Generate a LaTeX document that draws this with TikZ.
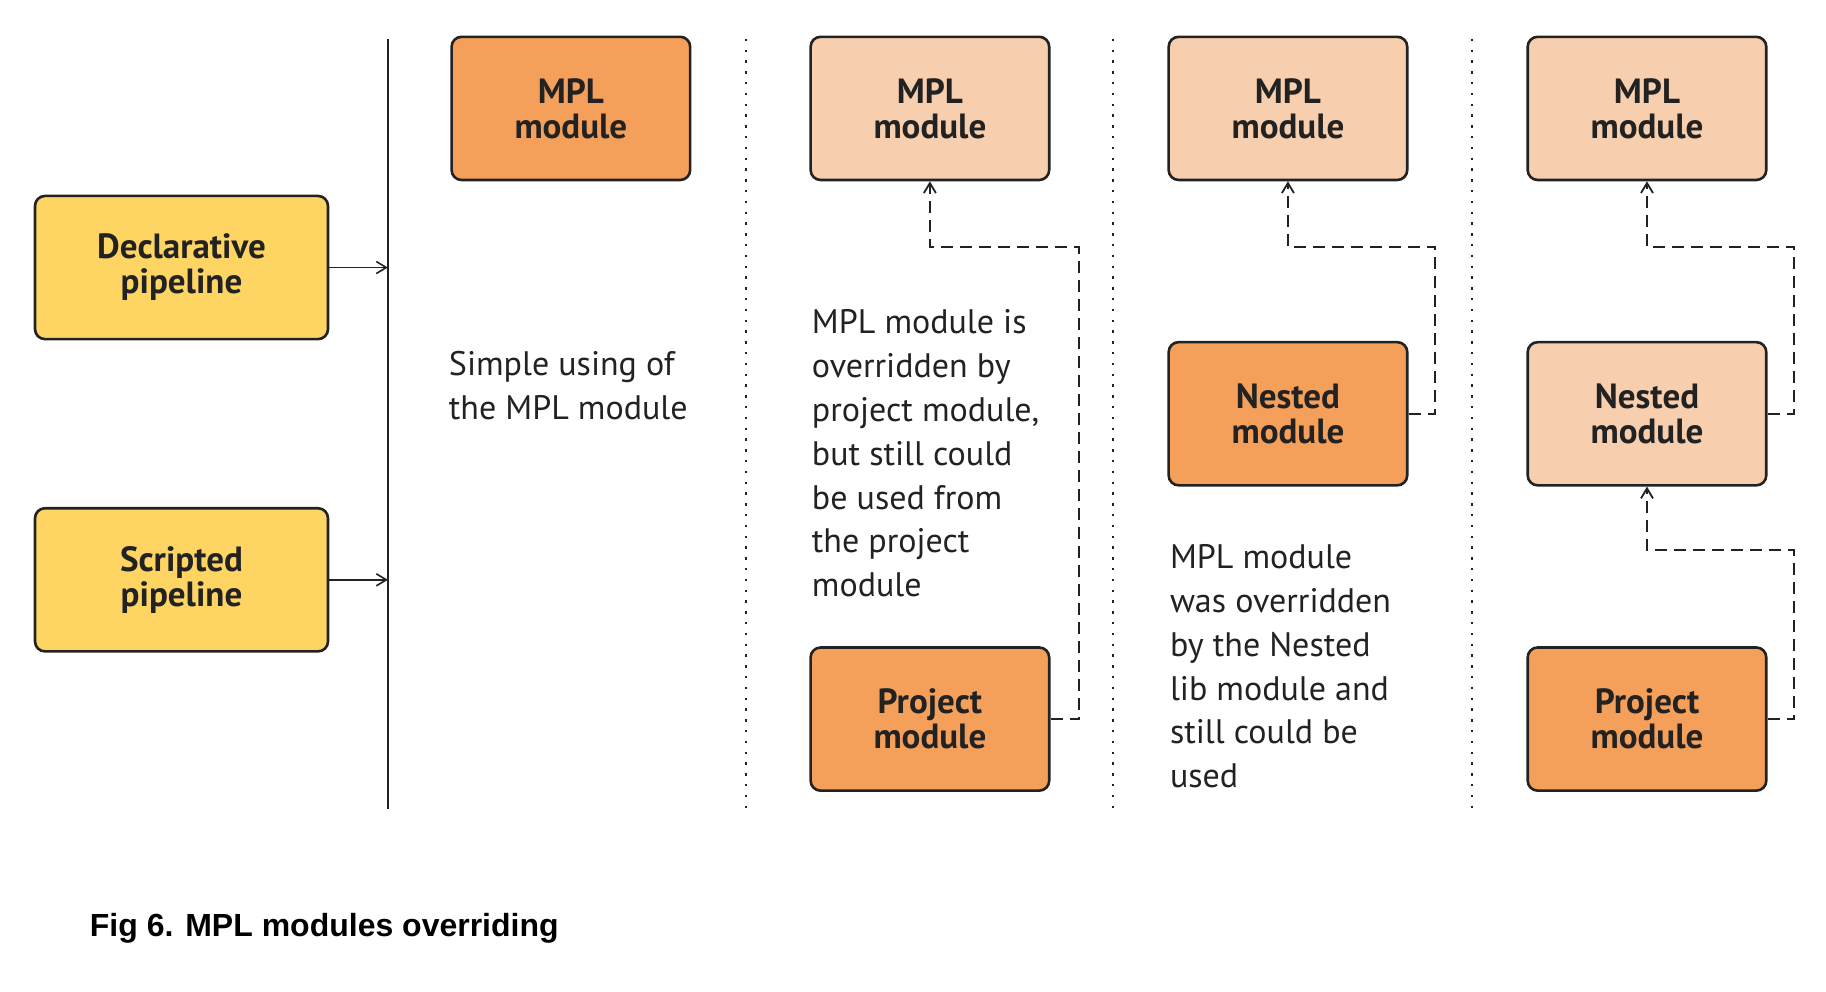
\documentclass[tikz,border=0pt]{standalone}
\usepackage{fontspec}
\setmainfont{PT Sans}
\newfontfamily\capfont{Liberation Sans}
\usetikzlibrary{arrows.meta}
\definecolor{boxline}{HTML}{222222}
\definecolor{orangeA}{HTML}{F5A05A}
\definecolor{peach}{HTML}{F8CFAE}
\definecolor{yellowA}{HTML}{FED463}
\begin{document}
\begin{tikzpicture}[x=0.4973pt,y=-0.4973pt,
  box/.style={draw=boxline, line width=1.3pt, rounded corners=5pt,
    minimum width=119.3pt, minimum height=71.6pt, align=center, inner sep=0pt,
    font=\bfseries\fontsize{17.5}{17.5}\selectfont, text=boxline},
  pipebox/.style={box, fill=yellowA, minimum width=146.5pt},
  darkbox/.style={box, fill=orangeA},
  lightbox/.style={box, fill=peach},
  note/.style={anchor=west, align=left, inner sep=0pt, text=boxline,
    font=\fontsize{17}{21.9}\selectfont},
  solidline/.style={line width=0.8pt, draw=boxline},
  dotline/.style={line width=1pt, draw=boxline, dash pattern=on 1.2pt off 4.2pt},
  dasharrow/.style={line width=0.9pt, draw=boxline, dash pattern=on 6pt off 3.5pt,
    -{Straight Barb[length=5pt,width=6pt]}},
  solidarrow/.style={line width=0.8pt, draw=boxline,
    -{Straight Barb[length=5pt,width=6pt]}}
]
\useasboundingbox (0,0) rectangle (1836,997.4);

% pipelines
\node[pipebox] (decl) at (182.5,269) {Declarative\\pipeline};
\node[pipebox] (script) at (182.5,583) {Scripted\\pipeline};

% separators
\coordinate (vtop) at (390,39);
\coordinate (vbot) at (390,813);
\draw[solidline] (vtop) -- (vbot);
\coordinate (d1top) at (750,39);   \coordinate (d1bot) at (750,813);
\coordinate (d2top) at (1119,39);  \coordinate (d2bot) at (1119,813);
\coordinate (d3top) at (1480,39);  \coordinate (d3bot) at (1480,813);
\draw[dotline] (d1top) -- (d1bot);
\draw[dotline] (d2top) -- (d2bot);
\draw[dotline] (d3top) -- (d3bot);

\draw[solidarrow] (decl.east) -- (decl.east -| vtop);
\draw[solidarrow] (script.east) -- (script.east -| vtop);

% column 1
\node[darkbox] (m1) at (574,109) {MPL\\module};
\node[note] (t1) at (451,388) {Simple using of\\the MPL module};

% column 2
\node[lightbox] (m2) at (935,109) {MPL\\module};
\node[darkbox] (p2) at (935,723) {Project\\module};
\node[note] (t2) at (816,456) {MPL module is\\overridden by\\project module,\\but still could\\be used from\\the project\\module};
\coordinate (c2) at (1085,248);
\draw[dasharrow] (p2.east) -| (c2) -| (m2.south);

% column 3
\node[lightbox] (m3) at (1295,109) {MPL\\module};
\node[darkbox] (n3) at (1295,416) {Nested\\module};
\node[note] (t3) at (1176,670) {MPL module\\was overridden\\by the Nested\\lib module and\\still could be\\used};
\coordinate (c3) at (1443,248);
\draw[dasharrow] (n3.east) -| (c3) -| (m3.south);

% column 4
\node[lightbox] (m4) at (1656,109) {MPL\\module};
\node[lightbox] (n4) at (1656,416) {Nested\\module};
\node[darkbox] (p4) at (1656,723) {Project\\module};
\coordinate (c4a) at (1804,248);
\coordinate (c4b) at (1804,553);
\draw[dasharrow] (n4.east) -| (c4a) -| (m4.south);
\draw[dasharrow] (p4.east) -| (c4b) -| (n4.south);

% caption
\node[anchor=west, inner sep=0pt, font=\capfont\bfseries\fontsize{16}{19}\selectfont] (cap) at (90,933) {Fig 6. MPL modules overriding};
\end{tikzpicture}
\end{document}
